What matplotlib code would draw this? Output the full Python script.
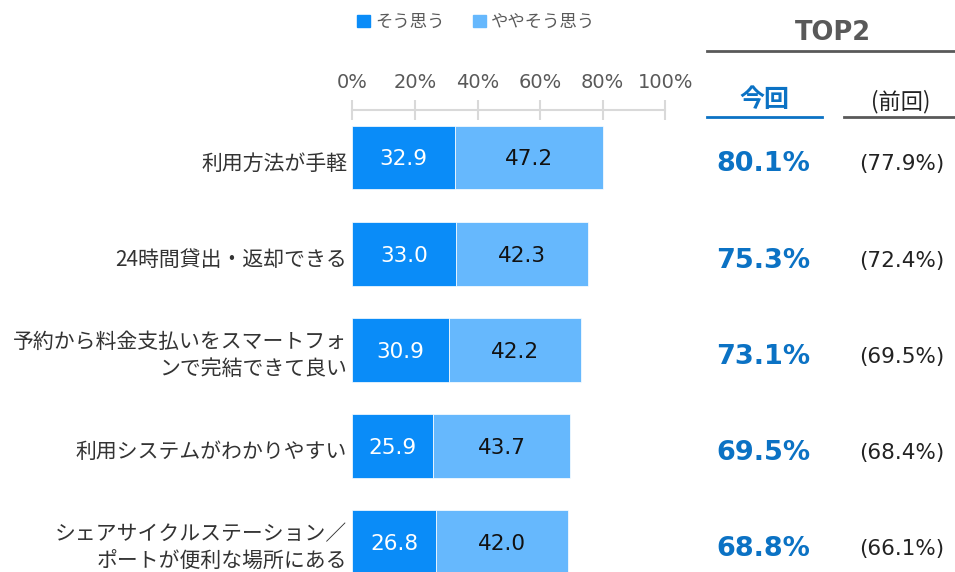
import matplotlib
matplotlib.use("Agg")
import matplotlib.pyplot as plt
import matplotlib.transforms as mtransforms
from matplotlib.patches import Patch
import numpy as np

plt.rcParams['font.family'] = ['Noto Sans CJK JP', 'DejaVu Sans']
NUMFONT = ['DejaVu Sans', 'Noto Sans CJK JP']

categories = ["利用方法が手軽", "24時間貸出・返却できる",
              "予約から料金支払いをスマートフォ\nンで完結できて良い",
              "利用システムがわかりやすい",
              "シェアサイクルステーション／\nポートが便利な場所にある"]
sou_omou = [32.9, 33.0, 30.9, 25.9, 26.8]
yaya_sou_omou = [47.2, 42.3, 42.2, 43.7, 42.0]
top2_now = [80.1, 75.3, 73.1, 69.5, 68.8]
top2_prev = [77.9, 72.4, 69.5, 68.4, 66.1]
series_names = ["そう思う", "ややそう思う"]
xticks = [0, 20, 40, 60, 80, 100]

C_DARK = "#0A8CF8"
C_LIGHT = "#66B8FD"
C_BLUE_TXT = "#0B72C4"
C_GRAY = "#595959"

W, H = 955, 572
fig = plt.figure(figsize=(W / 100, H / 100), dpi=100)

ax_left, ax_width = 352.3 / W, 313 / W
ax_top_px = 110
ax = fig.add_axes([ax_left, 0, ax_width, (H - ax_top_px) / H])
ax.set_xlim(0, 100)
ax.set_ylim(4 + 0.312, -0.494)

y = np.arange(len(categories))
bh = 0.665
ax.barh(y, sou_omou, height=bh, color=C_DARK, edgecolor="#ffffff", linewidth=0.5)
ax.barh(y, yaya_sou_omou, left=sou_omou, height=bh, color=C_LIGHT, edgecolor="#ffffff", linewidth=0.5)

off_lbl = mtransforms.offset_copy(ax.transData, fig=fig, x=0, y=-2, units="dots")
for i in range(len(categories)):
    ax.text(sou_omou[i] / 2, y[i], f"{sou_omou[i]:.1f}", ha="center", va="center",
            color="white", fontsize=15.5, family=NUMFONT, transform=off_lbl)
    ax.text(sou_omou[i] + yaya_sou_omou[i] / 2, y[i], f"{yaya_sou_omou[i]:.1f}",
            ha="center", va="center", color="#111111", fontsize=15.5, family=NUMFONT,
            transform=off_lbl)

# category labels
off = mtransforms.offset_copy(ax.transData, fig=fig, x=-5, y=-6, units="dots")
for i, c in enumerate(categories):
    ax.text(0, y[i], c, ha="right", va="center", transform=off, fontsize=15,
            color="#333333", linespacing=1.3, multialignment="right")

# axis on top
for s in ["left", "right", "bottom"]:
    ax.spines[s].set_visible(False)
ax.spines["top"].set_color("#D9D9D9")
ax.spines["top"].set_linewidth(1.5)
ax.xaxis.tick_top()
ax.set_xticks(xticks)
ax.set_xticklabels([f"{t}%" for t in xticks], family=NUMFONT)
ax.tick_params(axis="x", direction="inout", length=14, width=1.5, color="#D9D9D9",
               labelcolor=C_GRAY, labelsize=14, pad=6)
ax.set_yticks([])

# legend
handles = [Patch(color=C_DARK), Patch(color=C_LIGHT)]
fig.legend(handles, series_names, loc="center", bbox_to_anchor=(476 / W, 1 - 22 / H),
           ncol=2, frameon=False, fontsize=12.5, handlelength=0.75, handleheight=0.75,
           handletextpad=0.3, columnspacing=1.6, labelcolor=C_GRAY)

# right table
def fx(px):
    return px / W

def fy(py):
    return 1 - py / H

fig.text(fx(833), fy(33), "TOP2", ha="center", va="center", fontsize=18.5,
         fontweight="bold", color=C_GRAY, family=NUMFONT)
fig.add_artist(plt.Line2D([fx(707), fx(955)], [fy(50.5), fy(50.5)], color=C_GRAY, lw=2))
fig.text(fx(764), fy(100), "今回", ha="center", va="center", fontsize=18,
         fontweight="bold", color=C_BLUE_TXT)
fig.add_artist(plt.Line2D([fx(707), fx(822)], [fy(117), fy(117)], color=C_BLUE_TXT, lw=2))
fig.text(fx(901), fy(102), "(前回)", ha="center", va="center", fontsize=16, color="#222222")
fig.add_artist(plt.Line2D([fx(844), fx(955)], [fy(117), fy(117)], color=C_GRAY, lw=2))

blend = mtransforms.blended_transform_factory(fig.transFigure, ax.transData)
blend_off = mtransforms.offset_copy(blend, fig=fig, x=0, y=-7, units="dots")
for i in range(len(categories)):
    fig.text(fx(763), y[i], f"{top2_now[i]:.1f}%", ha="center", va="center",
             fontsize=19.5, fontweight="bold", color=C_BLUE_TXT, family=NUMFONT,
             transform=blend_off)
    fig.text(fx(902), y[i], f"({top2_prev[i]:.1f}%)", ha="center", va="center",
             fontsize=15.5, color="#222222", family=NUMFONT, transform=blend_off)

fig.savefig("out.png", dpi=100)
